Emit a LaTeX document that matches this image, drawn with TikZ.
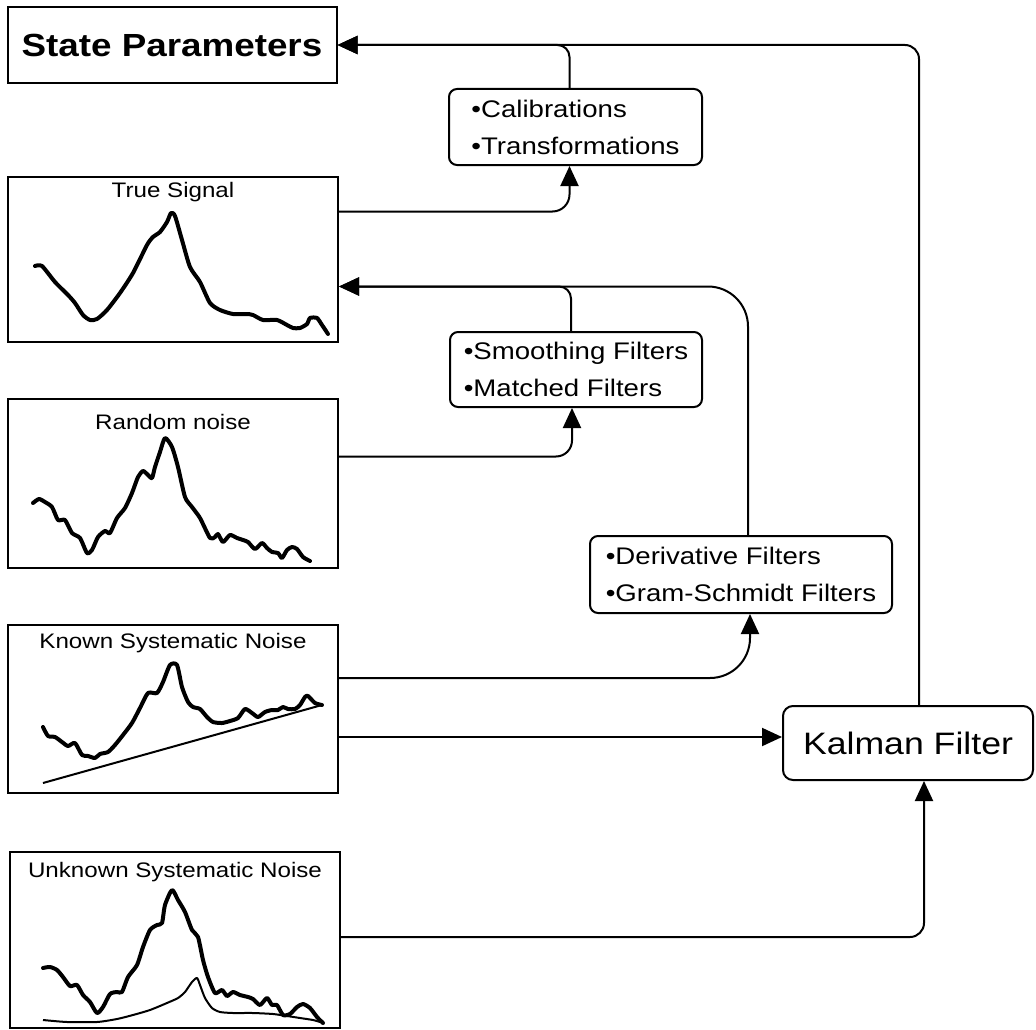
\documentclass[tikz,border=0pt]{standalone}
\usepackage{fontspec}
\newfontfamily\diagfont{Liberation Sans}[FakeStretch=1.15]
\usetikzlibrary{arrows.meta}

\begin{document}
\begin{tikzpicture}[x=1pt, y=-1pt, line width=2pt,
  sig box/.style={draw, minimum width=330pt, inner sep=0pt},
  filter box/.style={draw, rounded corners=8pt, align=left, inner sep=0pt, font=\diagfont\fontsize{24}{37}\selectfont},
  box title/.style={anchor=north, inner sep=0pt, font=\diagfont\fontsize{21}{24}\selectfont},
  sig/.style={line width=4pt, line join=round, line cap=round},
  base/.style={line width=2pt, line join=round},
  link/.style={line width=2pt, rounded corners=#1, -{Triangle[length=20pt,width=18pt]}},
  link/.default=14pt]
  \useasboundingbox (0,0) rectangle (1036,1030);

  % boxes on the left
  \node[draw, minimum width=329pt, minimum height=76pt, inner sep=0pt, font=\diagfont\bfseries\fontsize{32}{36}\selectfont] (state) at (172,45) {State Parameters};
  \node[sig box, minimum height=165pt] (truesig) at (173,259.5) {};
  \node[sig box, minimum height=169pt] (noise) at (173,483.5) {};
  \node[sig box, minimum height=168pt] (known) at (173,709) {};
  \node[sig box, minimum height=176pt] (unknown) at (175,940) {};
  \node[box title] (truesig title) at ([yshift=-5pt]truesig.north) {True Signal};
  \node[box title] (noise title) at ([yshift=-15pt]noise.north) {Random noise};
  \node[box title] (known title) at ([yshift=-8pt]known.north) {Known Systematic Noise};
  \node[box title] (unknown title) at ([yshift=-10pt]unknown.north) {Unknown Systematic Noise};

  % filter boxes
  \node[filter box, minimum width=253pt, minimum height=76pt] (calib) at (575.5,127) {•Calibrations\\•Transformations};
  \node[filter box, minimum width=252pt, minimum height=75pt] (smooth) at (576,369.5) {•Smoothing Filters\\•Matched Filters};
  \node[filter box, minimum width=302pt, minimum height=77pt] (deriv) at (741,574.5) {•Derivative Filters\\•Gram-Schmidt Filters};
  \node[draw, rounded corners=10pt, minimum width=250pt, minimum height=74pt, inner sep=0pt, font=\diagfont\fontsize{31}{34}\selectfont] (kalman) at (908,743) {Kalman Filter};

  % signals
  \draw[sig] plot[smooth, tension=0.4] coordinates {(35,266) (42,266) (55,282) (68,295) (75,303) (83,315) (90,320) (97,319) (107,310) (120,293) (133,273) (147,245) (153,237) (160,232) (167,222) (171,213) (175,216) (182,240) (190,267) (200,282) (210,303) (220,310) (233,314) (247,314) (253,315) (263,320) (277,320) (287,325) (293,328) (300,328) (307,324) (310,318) (317,318) (322,325) (328,334)};
  \draw[sig] plot[smooth, tension=0.4] coordinates {(33,503) (39,499) (45,502) (52,507) (58,520) (65,520) (72,533) (80,538) (87,553) (92,550) (98,537) (105,531) (110,533) (117,518) (125,508) (132,493) (138,477) (143,471) (148,475) (152,478) (155,467) (160,452) (165,438) (172,447) (178,467) (185,497) (192,507) (200,518) (210,538) (215,537) (218,534) (223,542) (230,535) (237,538) (243,540) (248,542) (255,549) (262,543) (267,548) (272,552) (278,553) (282,558) (287,550) (292,547) (297,549) (303,557) (310,561)};
  \draw[sig] plot[smooth, tension=0.4] coordinates {(43,727) (48,736) (55,737) (62,742) (68,746) (75,743) (82,755) (88,756) (95,758) (100,754) (108,752) (115,745) (123,735) (132,723) (140,708) (148,693) (157,693) (163,682) (170,665) (177,665) (182,687) (188,702) (193,707) (200,709) (207,717) (213,722) (222,723) (230,721) (238,718) (245,709) (252,713) (258,717) (265,712) (272,710) (278,710) (283,707) (288,709) (295,709) (300,705) (305,697) (308,696) (315,703) (322,705)};
  \draw[base] (43,783) -- (322,705);
  \draw[sig] plot[smooth, tension=0.4] coordinates {(43,968) (50,967) (57,970) (63,977) (70,986) (77,985) (83,995) (90,1002) (97,1013) (103,1007) (110,994) (117,992) (122,992) (128,977) (137,965) (143,947) (150,930) (157,925) (162,923) (165,905) (172,890) (178,900) (185,912) (192,930) (198,937) (203,960) (208,977) (215,993) (222,990) (227,996) (233,992) (240,995) (248,997) (253,999) (260,1005) (267,998) (272,1005) (277,1005) (283,1015) (290,1014) (297,1007) (303,1004) (310,1008) (317,1017) (323,1023)};
  \draw[base] plot[smooth, tension=0.4] coordinates {(43,1020) (67,1022) (97,1022) (117,1019) (133,1015) (150,1010) (167,1003) (178,998) (185,992) (192,982) (197,978) (200,985) (205,998) (212,1008) (220,1012) (233,1013) (253,1013) (273,1014) (287,1016) (300,1018) (313,1020) (320,1022)};

  % connectors
  \coordinate (known out) at ([yshift=-28pt]known.east);
  \draw[link] ([xshift=11pt]kalman.north) |- (state.east);
  \draw[link=12pt] ([xshift=-6pt]calib.north) |- (state.east);
  \draw[link=17pt] ([yshift=48pt]truesig.east) -| ([xshift=-6pt]calib.south);
  \draw[link=12pt] ([xshift=-5pt]smooth.north) |- ([yshift=-27pt]truesig.east);
  \draw[link=40pt] ([xshift=7pt]deriv.north) |- ([yshift=-27pt]truesig.east);
  \draw[link=16pt] ([yshift=27pt]noise.east) -| ([xshift=-4pt]smooth.south);
  \draw[link=40pt] ([yshift=31pt]known.east) -| ([xshift=9pt]deriv.south);
  \draw[link] (known out) -- (known out -| kalman.west);
  \draw[link] ([yshift=3pt]unknown.east) -| ([xshift=16pt]kalman.south);
\end{tikzpicture}
\end{document}
